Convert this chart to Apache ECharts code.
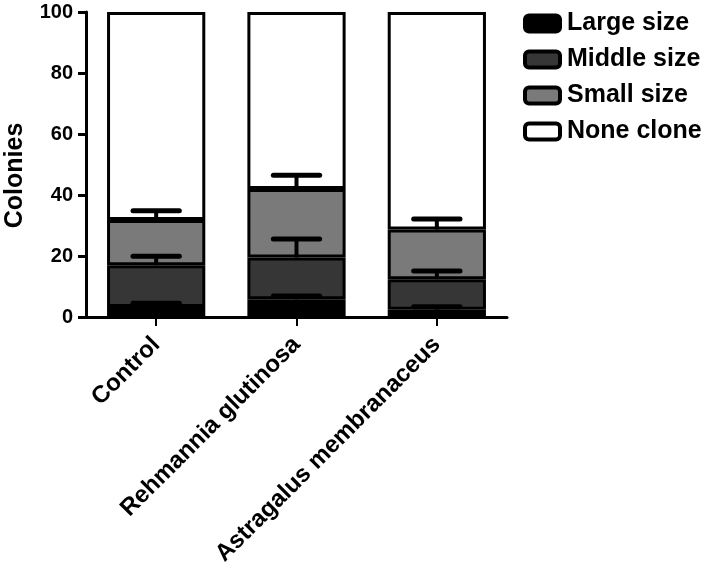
<!DOCTYPE html>
<html>
<head>
<meta charset="utf-8">
<script src="https://cdn.jsdelivr.net/npm/echarts@6/dist/echarts.min.js"></script>
<style>html,body{margin:0;padding:0;background:#fff;}#c{width:709px;height:569px;}</style>
</head>
<body>
<div id="c"></div>
<script>
const categories = ['Control', 'Rehmannia glutinosa', 'Astragalus membranaceus'];
const seriesNames = ['Large size', 'Middle size', 'Small size', 'None clone'];
const largeSize = [3.3, 5.8, 2.4];
const middleSize = [13.7, 13.7, 10.0];
const smallSize = [14.8, 22.5, 16.3];
const noneClone = [68.2, 58.0, 71.3];
const largeErr = [1.2, 1.1, 1.0];
const middleErr = [2.9, 6.1, 2.7];
const smallErr = [3.0, 4.5, 3.4];
const yTicks = [0, 20, 40, 60, 80, 100];

const colors = ['#000000', '#363636', '#7a7a7a', '#ffffff'];
const FONT = "'Liberation Sans', Arial, sans-serif";

const segs = [largeSize, middleSize, smallSize, noneClone];
const errs = [largeErr, middleErr, smallErr];

// error bar data: [categoryIndex, stackTop, stackTop+err]
const errData = [];
categories.forEach((c, i) => {
  let cum = 0;
  for (let s = 0; s < 3; s++) {
    cum += segs[s][i];
    errData.push([i, cum, cum + errs[s][i]]);
  }
});

const barSeries = seriesNames.map((name, s) => ({
  name: name,
  type: 'bar',
  stack: 'total',
  barWidth: '70%',
  data: segs[s],
  itemStyle: { color: colors[s], borderColor: '#000', borderWidth: 3 },
  emphasis: { disabled: true },
  z: 2
}));

const chart = echarts.init(document.getElementById('c'), null, { renderer: 'canvas' });
chart.setOption({
  animation: false,
  backgroundColor: '#fff',
  grid: { left: 86, right: 202, top: 12, bottom: 252, containLabel: false, outerBoundsMode: 'none' },
  legend: {
    orient: 'vertical',
    left: 523,
    top: 11,
    padding: 0,
    itemWidth: 35,
    itemHeight: 16,
    itemGap: 11,
    icon: 'roundRect',
    data: seriesNames,
    itemStyle: { borderColor: '#000', borderWidth: 4 },
    textStyle: { fontFamily: FONT, fontWeight: 'bold', fontSize: 25, color: '#000', padding: [0, 0, 0, 2] },
    selectedMode: false
  },
  xAxis: {
    type: 'category',
    data: categories,
    axisLine: { lineStyle: { color: '#000', width: 3 } },
    axisTick: { show: true, alignWithLabel: true, length: 9, lineStyle: { color: '#000', width: 2 } },
    axisLabel: { rotate: 45, margin: 24, interval: 0, fontFamily: FONT, fontWeight: 'bold', fontSize: 24, color: '#000' }
  },
  yAxis: {
    type: 'value',
    min: 0,
    max: 100,
    interval: 20,
    name: 'Colonies',
    nameLocation: 'middle',
    nameGap: 58,
    nameTextStyle: { fontFamily: FONT, fontWeight: 'bold', fontSize: 25, color: '#000', padding: [0, 22, 0, 0] },
    axisLine: { show: true, lineStyle: { color: '#000', width: 3 } },
    axisTick: { show: true, length: 8, lineStyle: { color: '#000', width: 3 } },
    splitLine: { show: false },
    axisLabel: {
      margin: 13,
      fontFamily: FONT, fontWeight: 'bold', fontSize: 20, color: '#000',
      formatter: v => yTicks.indexOf(v) >= 0 ? String(v) : ''
    }
  },
  series: barSeries.concat([{
    type: 'custom',
    name: 'err',
    data: errData,
    encode: { x: 0, y: [1, 2] },
    z: 5,
    silent: true,
    renderItem: function (params, api) {
      const x = api.value(0), base = api.value(1), top = api.value(2);
      const p0 = api.coord([x, base]);
      const p1 = api.coord([x, top]);
      const half = api.size([1, 0])[0] * 0.165;
      return {
        type: 'group',
        children: [
          { type: 'line', shape: { x1: p0[0], y1: p0[1], x2: p1[0], y2: p1[1] }, style: { stroke: '#000', lineWidth: 4 } },
          { type: 'line', shape: { x1: p1[0] - half, y1: p1[1], x2: p1[0] + half, y2: p1[1] }, style: { stroke: '#000', lineWidth: 5, lineCap: 'round' } }
        ]
      };
    }
  }])
});
</script>
</body>
</html>
